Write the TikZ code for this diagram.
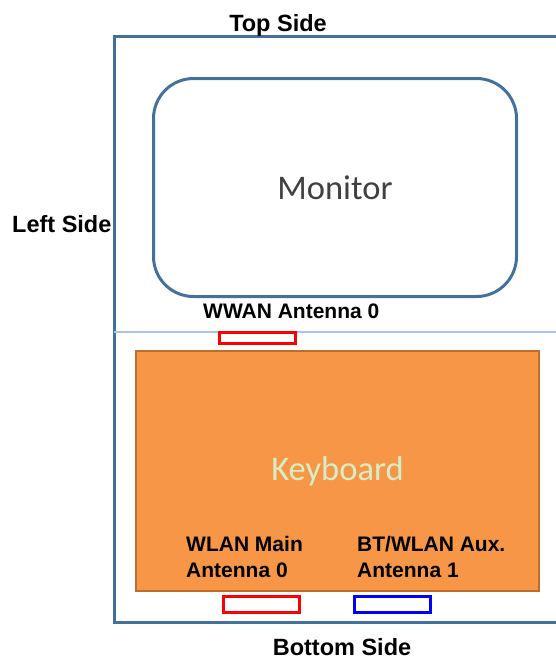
\documentclass[tikz,border=0pt]{standalone}
\usepackage{fontspec}
\setmainfont{Liberation Sans}
\newfontfamily\carlito{Carlito}
\usetikzlibrary{positioning}

\definecolor{framecol}{HTML}{41719C}
\definecolor{linecol}{HTML}{A9C5E8}
\definecolor{kbfill}{HTML}{F79646}
\definecolor{kbline}{HTML}{BE6E2C}
\definecolor{kbtext}{HTML}{D5EEC6}
\definecolor{montext}{HTML}{404040}

\begin{document}
\begin{tikzpicture}[x=1pt, y=-1pt, inner sep=0pt,
  side/.style={font=\fontsize{23.5}{26}\selectfont\bfseries},
  lbl/.style={font=\fontsize{21}{26}\selectfont\bfseries, align=left},
  antenna/.style={line width=3pt, fill=white, minimum width=76pt},
  panel/.style={font=\carlito\fontsize{34.5}{40}\selectfont}]
\useasboundingbox (0,0) rectangle (556,662);

% outer frame, right side runs off the page
\coordinate (tr) at (556,36.5);
\coordinate (tl) at (114,36.5);
\coordinate (bl) at (114,622);
\coordinate (br) at (556,622);
\draw[framecol, line width=3pt] (tr) -- (tl) -- (bl) -- (br);

% divider
\coordinate (dl) at (114,332);
\coordinate (dr) at (556,332);
\draw[linecol, line width=2pt] (dl) -- (dr);

\node[panel, draw=framecol, line width=3pt, rounded corners=40pt, minimum width=363pt, minimum height=218pt, text=montext] (monitor) at (335,187.5) {Monitor};
\node[panel, draw=kbline, fill=kbfill, line width=2pt, minimum width=403pt, minimum height=240pt, text=kbtext] (keyboard) at (337.5,471) {Keyboard};

\node[antenna, draw=red, minimum height=11pt] (wwan) at (257.5,338) {};
\node[antenna, draw=red, minimum height=16pt] (wlan) at (261.5,604.5) {};
\node[antenna, draw=blue, minimum height=16pt] (aux) at (392.5,604.5) {};

\node[side, anchor=base] (top) at (278,31) {Top Side};
\node[side, anchor=base west] (left) at (12,232) {Left Side};
\node[side, anchor=base] (bottom) at (342,655) {Bottom Side};

\node[lbl, anchor=base west] (wwanlbl) at (203,318) {WWAN Antenna 0};
\node[lbl, anchor=base west] (wlanlbl) at (186,577) {WLAN Main\\Antenna 0};
\node[lbl, anchor=base west] (auxlbl) at (357,577) {BT/WLAN Aux.\\Antenna 1};
\end{tikzpicture}
\end{document}
